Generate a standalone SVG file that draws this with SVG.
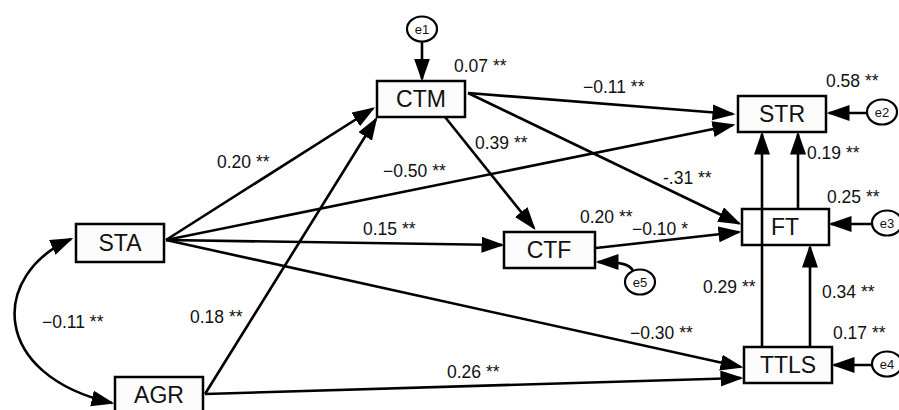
<svg xmlns="http://www.w3.org/2000/svg" width="899" height="410" viewBox="0 0 899 410">
<style>
.box{fill:#fcfcfc;stroke:#000;stroke-width:2.5}
.open{fill:none}
.err{fill:#fff;stroke:#000;stroke-width:2.2}
.bt{font-family:"Liberation Sans",Arial,sans-serif;font-size:23px;text-anchor:middle;fill:#111}
.et{font-family:"Liberation Sans",Arial,sans-serif;font-size:13px;text-anchor:middle;fill:#111}
.lb{font-family:"Liberation Sans",Arial,sans-serif;font-size:17.5px;fill:#111}
.c{fill:none;stroke:#000;stroke-width:2.6;marker-end:url(#ah)}
</style>
<defs>
<marker id="ah" markerUnits="userSpaceOnUse" markerWidth="24" markerHeight="18" refX="20.5" refY="8" orient="auto-start-reverse">
<path d="M0,0 L23,8 L0,16 z" fill="#000"/>
</marker>
</defs>
<rect width="899" height="410" fill="#fff"/>
<g id="connectors">
<path class="c" d="M166,240 L373,108.5"/>
<path class="c" d="M205,394 L376,119"/>
<path class="c" d="M166,240 L733,125"/>
<path class="c" d="M166,240 L502,245"/>
<path class="c" d="M166,240 L741,367"/>
<path class="c" d="M205,394 L741,378"/>
<path class="c" d="M468,93 L733,114"/>
<path class="c" d="M468,93 L739,223.5"/>
<path class="c" d="M445,117 L534,228"/>
<path class="c" d="M596,248 L739,232"/>
<path class="c" d="M762,347 L762,134"/>
<path class="c" d="M798,208 L798,134"/>
<path class="c" d="M810,347 L810,247"/>
<path class="c" d="M422,41 L422,79"/>
<path class="c" d="M867,113 L829,113"/>
<path class="c" d="M872,224 L831,224"/>
<path class="c" d="M872,365 L834,365"/>
<path class="c" d="M633,271 C630,264 620,262 598,262"/>
<path class="c" style="marker-start:url(#ah)" d="M71,239 C-10,275 -10,375 112,403"/>
</g>
<g id="CTM"><rect class="box" x="377" y="81" width="88" height="36"/><text class="bt" x="421" y="107">CTM</text></g>
<g id="STR"><rect class="box" x="738" y="96" width="88" height="36"/><text class="bt" x="782" y="122">STR</text></g>
<g id="FT"><rect class="box open" x="742" y="209" width="87" height="36"/><text class="bt" x="785" y="235">FT</text></g>
<g id="CTF"><rect class="box" x="504" y="232" width="91" height="36"/><text class="bt" x="549" y="258">CTF</text></g>
<g id="STA"><rect class="box" x="76" y="224" width="88" height="38"/><text class="bt" x="120" y="251">STA</text></g>
<g id="AGR"><rect class="box" x="115" y="377" width="88" height="36"/><text class="bt" x="159" y="403">AGR</text></g>
<g id="TTLS"><rect class="box" x="744" y="347" width="88" height="36"/><text class="bt" x="788" y="373">TTLS</text></g>
<g id="e1"><ellipse class="err" cx="422" cy="29" rx="15" ry="12.5"/><text class="et" x="422" y="33.5">e1</text></g>
<g id="e2"><ellipse class="err" cx="882" cy="112" rx="15" ry="12.5"/><text class="et" x="882" y="116.5">e2</text></g>
<g id="e3"><ellipse class="err" cx="887" cy="223" rx="15" ry="12.5"/><text class="et" x="887" y="227.5">e3</text></g>
<g id="e4"><ellipse class="err" cx="887" cy="364" rx="15" ry="12.5"/><text class="et" x="887" y="368.5">e4</text></g>
<g id="e5"><ellipse class="err" cx="640" cy="282" rx="15" ry="12.5"/><text class="et" x="640" y="286.5">e5</text></g>
<g id="labels">
<text class="lb" x="454" y="72">0.07 **</text>
<text class="lb" x="583" y="93">−0.11 **</text>
<text class="lb" x="826" y="87">0.58 **</text>
<text class="lb" x="475" y="149">0.39 **</text>
<text class="lb" x="807" y="159">0.19 **</text>
<text class="lb" x="663" y="184">-.31 **</text>
<text class="lb" x="827" y="203">0.25 **</text>
<text class="lb" x="217" y="168">0.20 **</text>
<text class="lb" x="383" y="177">−0.50 **</text>
<text class="lb" x="363" y="235">0.15 **</text>
<text class="lb" x="42" y="328">−0.11 **</text>
<text class="lb" x="190" y="323">0.18 **</text>
<text class="lb" x="580" y="223">0.20 **</text>
<text class="lb" x="632" y="235">−0.10 *</text>
<text class="lb" x="703" y="293">0.29 **</text>
<text class="lb" x="822" y="298">0.34 **</text>
<text class="lb" x="630" y="339">−0.30 **</text>
<text class="lb" x="833" y="339">0.17 **</text>
<text class="lb" x="447" y="378">0.26 **</text>
</g>
</svg>
